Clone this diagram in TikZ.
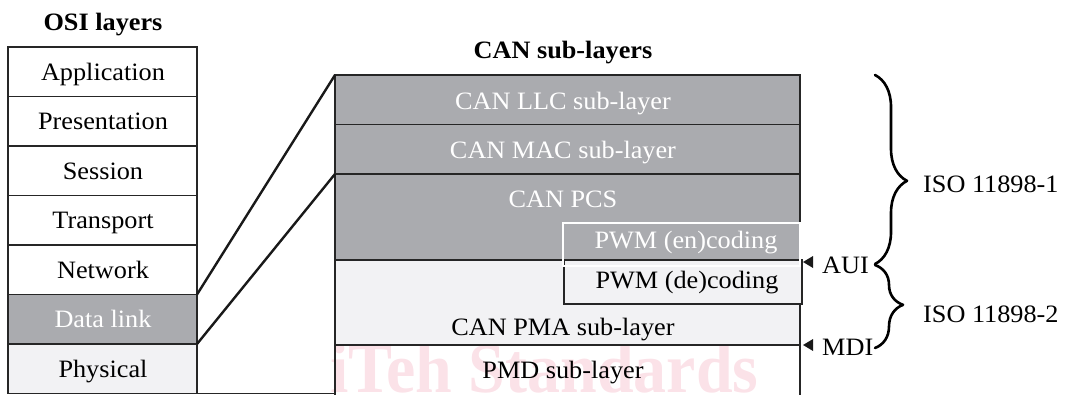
\documentclass[tikz,border=0pt]{standalone}
\usepackage{fontspec}
\setmainfont[FakeStretch=1.05]{Liberation Serif}
\usetikzlibrary{decorations.pathreplacing}
\definecolor{dk}{RGB}{170,171,175}
\definecolor{lt}{RGB}{242,242,244}
\definecolor{wm}{RGB}{251,226,232}
\begin{document}
\begin{tikzpicture}[x=1pt,y=-1pt,
  box/.style={draw=black!85, line width=1.2pt, inner sep=0pt, outer sep=0pt, rectangle},
  osibox/.style={box, minimum width=189pt, minimum height=49.5pt},
  canbox/.style={box, minimum width=465pt},
  lbl/.style={font=\fontsize{25}{30}\selectfont, inner sep=0pt, anchor=base},
  wlbl/.style={lbl, text=white},
  ttl/.style={lbl, font=\fontsize{25}{30}\selectfont\bfseries},
  conn/.style={line width=2.4pt, draw=black!90},
  brc/.style={decorate, line width=2.6pt, line cap=round, line join=round},
  tri/.style={fill=black!90}]
\useasboundingbox (0,0) rectangle (1070,394);

% watermark
\node[anchor=base west, inner sep=0pt, text=wm, font=\fontsize{71}{80}\selectfont\bfseries] (wmark) at (330,392) {\scalebox{0.885}[1]{iTeh Standards}};

% titles
\node[ttl] (tosi) at (103,30) {OSI layers};
\node[ttl] (tcan) at (563,58) {CAN sub-layers};

% OSI layers
\node[osibox, fill=white] (app) at (102.5,71.75) {};
\node[osibox, fill=white] (pres) at (102.5,121.25) {};
\node[osibox, fill=white] (sess) at (102.5,170.75) {};
\node[osibox, fill=white] (trans) at (102.5,220.25) {};
\node[osibox, fill=white] (net) at (102.5,269.75) {};
\node[osibox, fill=dk] (dl) at (102.5,319.25) {};
\node[osibox, fill=lt] (phy) at (102.5,368.75) {};
\node[lbl] (tapp) at (103,80) {Application};
\node[lbl] (tpres) at (103,129.5) {Presentation};
\node[lbl] (tsess) at (103,179) {Session};
\node[lbl] (ttrans) at (103,228.5) {Transport};
\node[lbl] (tnet) at (103,278) {Network};
\node[wlbl] (tdl) at (103,327.5) {Data link};
\node[lbl] (tphy) at (103,377) {Physical};

% CAN sub-layers
\node[canbox, fill=dk, minimum height=49.5pt] (llc) at (567.5,99.75) {};
\node[canbox, fill=dk, minimum height=49.5pt] (mac) at (567.5,149.25) {};
\node[canbox, fill=dk, minimum height=86pt] (pcs) at (567.5,217) {};
\node[canbox, fill=lt, minimum height=85pt] (pma) at (567.5,302.5) {};
\node[canbox, minimum height=85pt] (pmd) at (567.5,387.5) {};
\node[box, fill=lt, minimum width=238pt, minimum height=44pt] (dec) at (683,282) {};
\node[box, draw=white, minimum width=237pt, minimum height=43pt] (enc) at (681.5,244.5) {};

\node[wlbl] (tllc) at (563,109) {CAN LLC sub-layer};
\node[wlbl] (tmac) at (563,158) {CAN MAC sub-layer};
\node[wlbl] (tpcs) at (563,207) {CAN PCS};
\node[wlbl] (tenc) at (686,248) {PWM (en)coding};
\node[lbl] (tdec) at (687,288) {PWM (de)coding};
\node[lbl] (tpma) at (563,335) {CAN PMA sub-layer};
\node[lbl] (tpmd) at (563,378) {PMD sub-layer};

% bottom line
\draw[line width=1.2pt, draw=black!85] (phy.south east) -- (pmd.west |- phy.south east);

% connectors
\draw[conn] (net.south east) -- (llc.north west);
\draw[conn] (dl.south east) -- (pcs.north west);

% interface markers
\coordinate (auitip) at (803,262);
\coordinate (mditip) at (803,345);
\fill[tri] (auitip) -- ++(10,-6) -- ++(0,12) -- cycle;
\fill[tri] (mditip) -- ++(10,-6) -- ++(0,12) -- cycle;
\node[anchor=base west, inner sep=0pt, font=\fontsize{25}{30}\selectfont] (aui) at (822,273) {AUI};
\node[anchor=base west, inner sep=0pt, font=\fontsize{25}{30}\selectfont] (mdi) at (822,355) {MDI};

% braces
\coordinate (b1a) at (875,75);
\coordinate (b1b) at (875,264);
\coordinate (b2a) at (875,265);
\coordinate (b2b) at (875,348);
\draw[brc, decoration={brace, amplitude=32pt, aspect=0.56}] (b1a) -- (b1b);
\draw[brc, decoration={brace, amplitude=28pt, aspect=0.48}] (b2a) -- (b2b);
\node[anchor=base west, inner sep=0pt, font=\fontsize{25}{30}\selectfont] (iso1) at (923,192) {ISO 11898-1};
\node[anchor=base west, inner sep=0pt, font=\fontsize{25}{30}\selectfont] (iso2) at (923,322) {ISO 11898-2};
\end{tikzpicture}
\end{document}
